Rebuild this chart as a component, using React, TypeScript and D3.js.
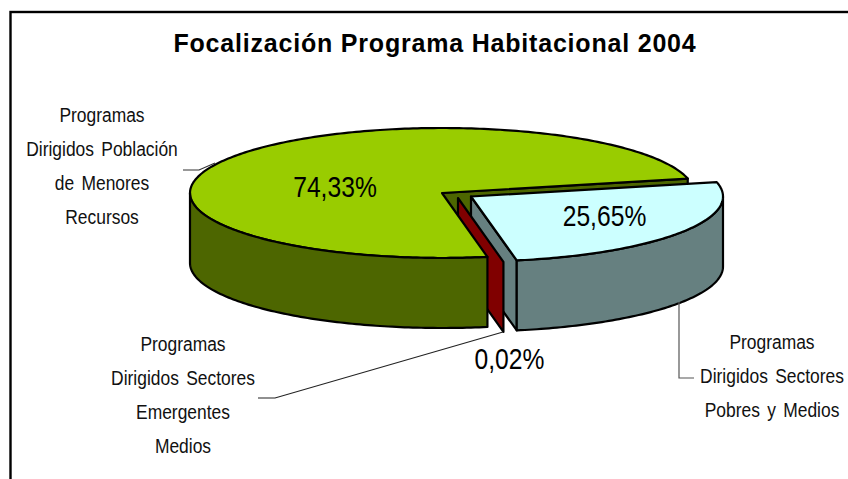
import React from "react";
import * as d3 from "d3";

const sliceNames = ["Dirigidos Sectores Pobres y Medios", "Emergentes", "Población de Menores Recursos"];
const sliceValues = [25.65, 0.02, 74.33];
const sliceLabels = ["25,65%", "0,02%", "74,33%"];
const sliceTop = ["#ccffff", "#8b0000", "#99cc00"];
const sliceSide = ["#668080", "#800000", "#4d6600"];
const sliceShift: [number, number][] = [[29, 3.5], [16, 5], [0, 0]];
const labelPos: [number, number][] = [[604.5, 226], [509.5, 369], [335, 197]];

const callouts = [
  { lines: ["Programas", "Dirigidos Población", "de Menores", "Recursos"], x: 102, y: 122 },
  { lines: ["Programas", "Dirigidos Sectores", "Emergentes", "Medios"], x: 183, y: 351 },
  { lines: ["Programas", "Dirigidos Sectores", "Pobres y Medios"], x: 772, y: 349 },
];
const leaders: { pts: [number, number][]; color: string }[] = [
  { pts: [[183, 170], [199, 170], [215, 163]], color: "#333" },
  { pts: [[258, 398], [275, 398], [503, 332]], color: "#222" },
  { pts: [[679, 302], [679, 378], [694, 378]], color: "#555" },
];

const CX = 442, CY = 193, RX = 252, RY = 65, DEPTH = 70;
const FONT = "'Liberation Sans',Arial,sans-serif";
const START = (77.2 * Math.PI) / 180;

const pieGen = d3.pie<number>().sort(null).startAngle(START).endAngle(START + 2 * Math.PI);
const arcs = pieGen(sliceValues);

function ptOn(a: number, i: number, down = 0): [number, number] {
  const t = a - Math.PI / 2;
  return [CX + sliceShift[i][0] + RX * Math.cos(t), CY + sliceShift[i][1] + RY * Math.sin(t) + down];
}
const toPath = d3.line<[number, number]>();
function rim(a0: number, a1: number, i: number, down = 0) {
  const n = Math.max(2, Math.ceil(Math.abs(a1 - a0) * 60));
  return d3.range(n + 1).map((k) => ptOn(a0 + ((a1 - a0) * k) / n, i, down));
}
function topPath(i: number) {
  const a = arcs[i];
  const c: [number, number] = [CX + sliceShift[i][0], CY + sliceShift[i][1]];
  return toPath([c, ...rim(a.startAngle, a.endAngle, i)])! + "Z";
}
function cutFace(i: number, ang: number) {
  const c: [number, number] = [CX + sliceShift[i][0], CY + sliceShift[i][1]];
  const p = ptOn(ang, i);
  return toPath([c, p, [p[0], p[1] + DEPTH], [c[0], c[1] + DEPTH]])! + "Z";
}
function sidePath(i: number) {
  const a = arcs[i];
  const front = Math.PI / 2;
  const back = (3 * Math.PI) / 2;
  const segs: string[] = [];
  for (let k = -1; k < 2; k++) {
    const lo = Math.max(a.startAngle, front + k * 2 * Math.PI);
    const hi = Math.min(a.endAngle, back + k * 2 * Math.PI);
    if (hi > lo) {
      segs.push(toPath([...rim(lo, hi, i), ...rim(hi, lo, i, DEPTH)])! + "Z");
    }
  }
  return segs.join(" ");
}

const STROKE = { stroke: "#000", strokeWidth: 2.2, strokeLinejoin: "round" as const };

export default function App() {
  return (
    <svg width={848} height={479} style={{ position: "fixed", left: 0, top: 0, background: "#fff" }}>
      <rect x={10.5} y={12} width={900} height={540} fill="#fff" stroke="#000" strokeWidth={2.4} />
      <text x={435} y={52} textAnchor="middle" fontFamily={FONT} fontWeight="bold" fontSize={25} letterSpacing={0.8}>
        Focalización Programa Habitacional 2004
      </text>

      {/* back: the green cut face */}
      <path d={cutFace(2, arcs[2].endAngle)} fill={sliceSide[2]} {...STROKE} />

      {/* blue slice */}
      <path d={cutFace(0, arcs[0].endAngle)} fill={sliceSide[0]} {...STROKE} />
      <path d={sidePath(0)} fill={sliceSide[0]} {...STROKE} />
      <path d={topPath(0)} fill={sliceTop[0]} {...STROKE} />

      {/* red sliver */}
      <path d={cutFace(1, arcs[1].endAngle)} fill={sliceSide[1]} {...STROKE} />

      {/* green top and wall sit in front of the sliver */}
      <path d={topPath(2)} fill={sliceTop[2]} {...STROKE} />
      <path d={sidePath(2)} fill={sliceSide[2]} {...STROKE} />

      {leaders.map((l, i) => (
        <path key={i} d={toPath(l.pts)!} fill="none" stroke={l.color} strokeWidth={1.2} />
      ))}

      {callouts.map((c) =>
        c.lines.map((s, j) => (
          <text key={c.x + "-" + j} transform={`translate(${c.x},${c.y + j * 34}) scale(0.83,1)`} textAnchor="middle"
            fontFamily={FONT} fontSize={21} fill="#111" style={{ wordSpacing: 3 }}>{s}</text>
        ))
      )}
      {sliceLabels.map((s, i) => (
        <text key={i} transform={`translate(${labelPos[i][0]},${labelPos[i][1]}) scale(0.85,1)`} textAnchor="middle"
          fontFamily={FONT} fontSize={29} fill="#000">{s}</text>
      ))}
    </svg>
  );
}
